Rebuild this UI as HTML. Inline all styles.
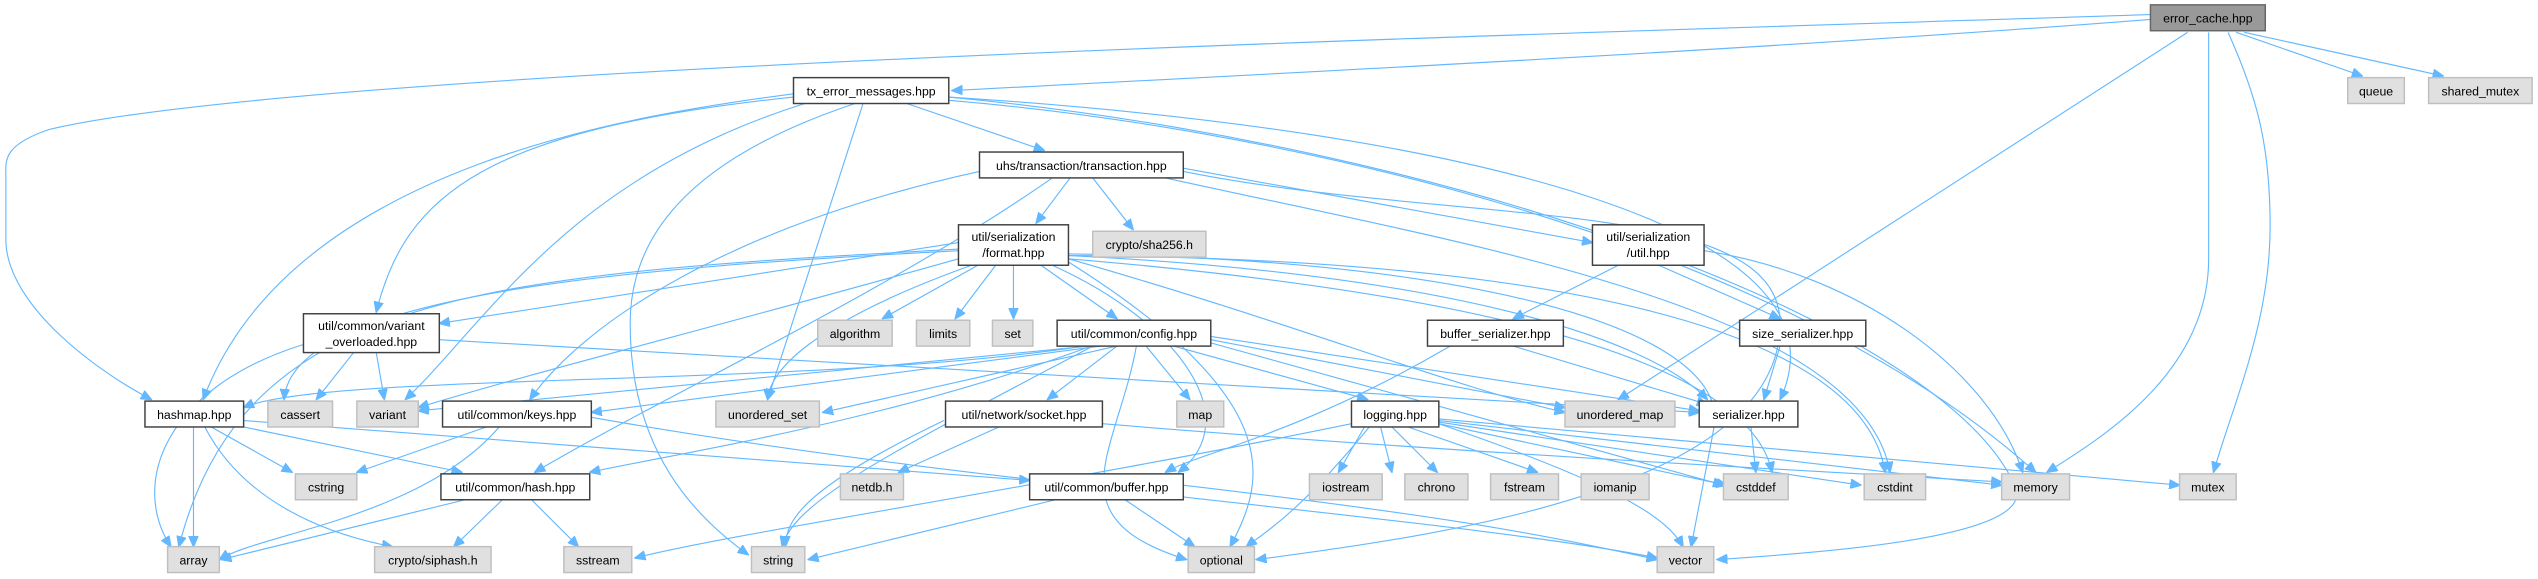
<!DOCTYPE html>
<html><head><meta charset="utf-8"><style>
html,body{margin:0;padding:0;background:#fff;}
svg{display:block;}
text{font-family:"Liberation Sans",sans-serif;font-size:7.6px;fill:#000;text-anchor:middle;}
.w{fill:#fff;stroke:#404040;stroke-width:0.9;}
.g{fill:#e0e0e0;stroke:#bfbfbf;stroke-width:0.9;}
.r{fill:#999;stroke:#666;stroke-width:0.9;}
path{fill:none;stroke:#63b8ff;stroke-width:0.7;}
</style></head><body>
<svg width="2538" height="579" viewBox="0 0 1568 358" xmlns="http://www.w3.org/2000/svg">
<defs><marker id="a" markerUnits="userSpaceOnUse" markerWidth="7" markerHeight="6" refX="6.5" refY="3" orient="auto"><path d="M0,0 L7,3 L0,6 z" style="fill:#63b8ff;stroke:#63b8ff;stroke-width:0.5"/></marker></defs>
<g marker-end="url(#a)">
<path d="M1329,12 C1100,30 800,45 588,56"/>
<path d="M1329,9 C1000,20 200,40 30,80 C0,90 3,100 3,110 L3,150 C5,190 60,230 93,247"/>
<path d="M1352,20 L1000,247"/>
<path d="M1365,20 L1365,160 C1365,230 1300,270 1265,292"/>
<path d="M1377,20 C1395,60 1403,90 1403,140 C1403,200 1380,250 1368,292"/>
<path d="M1382,20 L1460,47"/>
<path d="M1387,20 L1510,47"/>
<path d="M586,60 C900,90 1200,200 1245,300 C1260,330 1150,340 1061,346"/>
<path d="M560,64 L645,93"/>
<path d="M490,58 C400,70 180,100 125,247"/>
<path d="M490,60 C300,80 250,120 232,193"/>
<path d="M497,64 C350,110 300,200 250,247"/>
<path d="M528,64 C420,100 389,150 389,200 C389,280 430,320 462,343"/>
<path d="M533,64 L474,247"/>
<path d="M586,62 C800,80 1100,150 1258,292"/>
<path d="M586,60 C900,80 1150,140 1100,247"/>
<path d="M661,110 L640,138"/>
<path d="M675,110 L700,142"/>
<path d="M731,104 L984,150"/>
<path d="M650,110 C550,180 400,250 330,292"/>
<path d="M605,106 C450,140 360,200 327,247"/>
<path d="M731,106 C900,140 1100,120 1100,200 C1100,300 900,330 776,346"/>
<path d="M720,110 C900,150 1150,190 1168,292"/>
<path d="M592,150 L271,200"/>
<path d="M604,164 L545,197"/>
<path d="M615,164 L590,197"/>
<path d="M626,164 L626,197"/>
<path d="M643,164 L690,197"/>
<path d="M592,154 C300,170 150,180 110,338"/>
<path d="M592,155 C400,165 180,180 175,247"/>
<path d="M592,160 C450,200 330,230 258,252"/>
<path d="M600,164 C500,200 475,230 474,247"/>
<path d="M660,160 C800,200 900,240 967,255"/>
<path d="M660,158 C900,170 1020,210 1055,247"/>
<path d="M650,164 C730,200 770,260 728,292"/>
<path d="M660,160 C900,180 1080,220 1095,292"/>
<path d="M660,158 C950,160 1150,200 1165,292"/>
<path d="M660,157 C900,160 1060,200 1060,260 L1045,338"/>
<path d="M660,162 C800,250 780,300 760,338"/>
<path d="M1000,164 L935,197"/>
<path d="M1025,164 L1100,197"/>
<path d="M1053,155 C1150,170 1230,230 1250,292"/>
<path d="M218,218 L195,247"/>
<path d="M232,218 L237,247"/>
<path d="M187,213 C100,240 80,300 105,338"/>
<path d="M271,210 L1050,255"/>
<path d="M670,214 C500,240 200,230 150,252"/>
<path d="M673,214 L258,254"/>
<path d="M680,214 L365,255"/>
<path d="M690,214 L508,255"/>
<path d="M690,214 L647,247"/>
<path d="M708,214 L735,247"/>
<path d="M725,214 L845,247"/>
<path d="M748,210 L967,252"/>
<path d="M748,208 L1050,254"/>
<path d="M674,214 C550,260 420,280 364,292"/>
<path d="M675,214 C550,280 490,310 483,338"/>
<path d="M702,214 C690,280 650,320 733,346"/>
<path d="M748,212 L1065,300"/>
<path d="M119,264 L119,338"/>
<path d="M130,264 L180,292"/>
<path d="M126,264 C150,310 200,330 242,338"/>
<path d="M150,264 L285,292"/>
<path d="M150,260 L636,297"/>
<path d="M300,264 L220,292"/>
<path d="M308,264 C260,320 160,330 135,346"/>
<path d="M365,258 C600,300 900,320 1024,345"/>
<path d="M617,264 L555,292"/>
<path d="M583,260 C500,300 485,320 485,338"/>
<path d="M681,262 C900,280 1100,290 1237,298"/>
<path d="M843,264 L827,292"/>
<path d="M853,264 L860,292"/>
<path d="M860,264 L888,292"/>
<path d="M870,264 L950,292"/>
<path d="M889,262 L1067,300"/>
<path d="M889,261 L1150,300"/>
<path d="M889,260 L1237,300"/>
<path d="M889,259 L1347,300"/>
<path d="M889,262 C1000,300 1030,320 1040,338"/>
<path d="M846,264 C800,320 780,330 770,338"/>
<path d="M835,262 C650,300 450,330 392,345"/>
<path d="M1082,264 L1085,292"/>
<path d="M935,214 L1055,250"/>
<path d="M896,214 C800,270 740,280 720,292"/>
<path d="M1100,214 L1090,247"/>
<path d="M287,309 L136,346"/>
<path d="M310,309 L280,338"/>
<path d="M328,309 L357,338"/>
<path d="M652,309 L499,346"/>
<path d="M695,309 L738,338"/>
<path d="M731,300 C900,320 950,330 1024,346"/>
</g>
<g>
<rect class="r" x="1329" y="3" width="71" height="16"/><text x="1364.5" y="14">error_cache.hpp</text>
<rect class="g" x="1451" y="48" width="35" height="16"/><text x="1468.5" y="59">queue</text>
<rect class="g" x="1501" y="48" width="64" height="16"/><text x="1533" y="59">shared_mutex</text>
<rect class="w" x="490" y="48" width="96" height="16"/><text x="538" y="59">tx_error_messages.hpp</text>
<rect class="w" x="605" y="94" width="126" height="16"/><text x="668" y="105">uhs/transaction/transaction.hpp</text>
<rect class="w" x="592" y="139" width="68" height="25"/><text x="626" y="149">util/serialization</text><text x="626" y="159">/format.hpp</text>
<rect class="g" x="675" y="143" width="70" height="16"/><text x="710" y="154">crypto/sha256.h</text>
<rect class="w" x="984" y="139" width="69" height="25"/><text x="1018.5" y="149">util/serialization</text><text x="1018.5" y="159">/util.hpp</text>
<rect class="w" x="187" y="194" width="84" height="24"/><text x="229" y="204">util/common/variant</text><text x="229" y="214">_overloaded.hpp</text>
<rect class="g" x="505" y="198" width="46" height="16"/><text x="528" y="209">algorithm</text>
<rect class="g" x="566" y="198" width="33" height="16"/><text x="582.5" y="209">limits</text>
<rect class="g" x="613" y="198" width="25" height="16"/><text x="625.5" y="209">set</text>
<rect class="w" x="653" y="198" width="95" height="16"/><text x="700.5" y="209">util/common/config.hpp</text>
<rect class="w" x="882" y="198" width="84" height="16"/><text x="924" y="209">buffer_serializer.hpp</text>
<rect class="w" x="1075" y="198" width="78" height="16"/><text x="1114" y="209">size_serializer.hpp</text>
<rect class="w" x="89" y="248" width="61" height="16"/><text x="119.5" y="259">hashmap.hpp</text>
<rect class="g" x="165" y="248" width="40" height="16"/><text x="185" y="259">cassert</text>
<rect class="g" x="220" y="248" width="38" height="16"/><text x="239" y="259">variant</text>
<rect class="w" x="273" y="248" width="92" height="16"/><text x="319" y="259">util/common/keys.hpp</text>
<rect class="g" x="442" y="248" width="64" height="16"/><text x="474" y="259">unordered_set</text>
<rect class="w" x="584" y="248" width="97" height="16"/><text x="632.5" y="259">util/network/socket.hpp</text>
<rect class="g" x="727" y="248" width="29" height="16"/><text x="741.5" y="259">map</text>
<rect class="w" x="835" y="248" width="54" height="16"/><text x="862" y="259">logging.hpp</text>
<rect class="g" x="967" y="248" width="68" height="16"/><text x="1001" y="259">unordered_map</text>
<rect class="w" x="1050" y="248" width="61" height="16"/><text x="1080.5" y="259">serializer.hpp</text>
<rect class="g" x="182" y="293" width="38" height="16"/><text x="201" y="304">cstring</text>
<rect class="w" x="272" y="293" width="92" height="16"/><text x="318" y="304">util/common/hash.hpp</text>
<rect class="g" x="519" y="293" width="39" height="16"/><text x="538.5" y="304">netdb.h</text>
<rect class="w" x="636" y="293" width="95" height="16"/><text x="683.5" y="304">util/common/buffer.hpp</text>
<rect class="g" x="809" y="293" width="45" height="16"/><text x="831.5" y="304">iostream</text>
<rect class="g" x="868" y="293" width="39" height="16"/><text x="887.5" y="304">chrono</text>
<rect class="g" x="921" y="293" width="42" height="16"/><text x="942" y="304">fstream</text>
<rect class="g" x="977" y="293" width="42" height="16"/><text x="998" y="304">iomanip</text>
<rect class="g" x="1065" y="293" width="40" height="16"/><text x="1085" y="304">cstddef</text>
<rect class="g" x="1152" y="293" width="38" height="16"/><text x="1171" y="304">cstdint</text>
<rect class="g" x="1237" y="293" width="42" height="16"/><text x="1258" y="304">memory</text>
<rect class="g" x="1347" y="293" width="35" height="16"/><text x="1364.5" y="304">mutex</text>
<rect class="g" x="103" y="338" width="32" height="16"/><text x="119" y="349">array</text>
<rect class="g" x="231" y="338" width="72" height="16"/><text x="267" y="349">crypto/siphash.h</text>
<rect class="g" x="348" y="338" width="42" height="16"/><text x="369" y="349">sstream</text>
<rect class="g" x="464" y="338" width="33" height="16"/><text x="480.5" y="349">string</text>
<rect class="g" x="734" y="338" width="41" height="16"/><text x="754.5" y="349">optional</text>
<rect class="g" x="1024" y="338" width="35" height="16"/><text x="1041.5" y="349">vector</text>
</g>
</svg>
</body></html>
